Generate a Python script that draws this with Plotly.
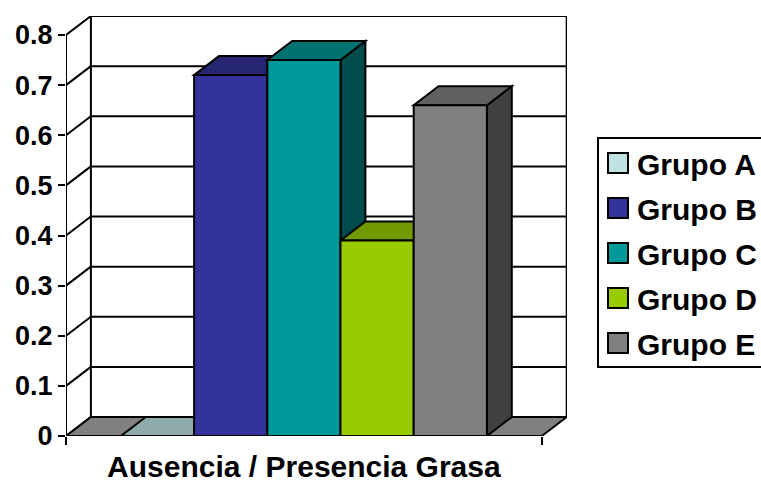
import plotly.graph_objects as go

# ---- data -------------------------------------------------------------
category = "Ausencia / Presencia Grasa"
groups = ["Grupo A", "Grupo B", "Grupo C", "Grupo D", "Grupo E"]
values = [0.0, 0.72, 0.75, 0.39, 0.66]
colors = ["#BFE3E3", "#333399", "#009999", "#99CC00", "#808080"]
y_ticks = [0, 0.1, 0.2, 0.3, 0.4, 0.5, 0.6, 0.7, 0.8]
y_tick_labels = ["0", "0.1", "0.2", "0.3", "0.4", "0.5", "0.6", "0.7", "0.8"]

# ---- pseudo-3D geometry (in axis units) --------------------------------
GAP = 0.75          # empty floor on each side of the bar cluster
BAR_W = 1.0
DX = 0.34           # depth offset along x
DY = 0.0379         # depth offset along y
FRONT_W = GAP * 2 + BAR_W * len(groups)
Y_MAX = y_ticks[-1]

W, H = 761, 482
ML, MR, MT, MB = 66, 194, 16, 46
PLOT_W = W - ML - MR
PLOT_H = H - MT - MB
X_RANGE = [0, PLOT_W / 73.2]
Y_RANGE = [0, PLOT_H / 501.25]

FONT = "Liberation Sans, Arial, sans-serif"
EDGE = dict(color="black", width=2)


def shade(hex_color, k):
    h = hex_color.lstrip("#")
    r, g, b = (int(h[i:i + 2], 16) for i in (0, 2, 4))
    return "#{:02X}{:02X}{:02X}".format(int(r * k), int(g * k), int(b * k))


def poly(pts):
    return "M " + " L ".join(f"{x},{y}" for x, y in pts) + " Z"


shapes = []

# back wall gridlines and the two wall edges
for v in y_ticks:
    shapes.append(dict(type="line", xref="x", yref="y", layer="below",
                       x0=DX, y0=v + DY, x1=FRONT_W + DX, y1=v + DY, line=EDGE))
for xe in (DX, FRONT_W + DX):
    shapes.append(dict(type="line", xref="x", yref="y", layer="below",
                       x0=xe, y0=DY, x1=xe, y1=Y_MAX + DY, line=EDGE))

# side wall: diagonal connectors from the front axis to the back wall
for v in y_ticks:
    shapes.append(dict(type="line", xref="x", yref="y", layer="below",
                       x0=0, y0=v, x1=DX, y1=v + DY, line=EDGE))
shapes.append(dict(type="line", xref="x", yref="y", layer="below",
                   x0=0, y0=0, x1=0, y1=Y_MAX, line=EDGE))

# floor
shapes.append(dict(type="path", xref="x", yref="y", layer="below",
                   path=poly([(0, 0), (FRONT_W, 0), (FRONT_W + DX, DY), (DX, DY)]),
                   fillcolor="#808080", line=EDGE))

# top and side faces, painted left to right
x_left = [GAP + i * BAR_W for i in range(len(groups))]
for xl, v, c in zip(x_left, values, colors):
    xr = xl + BAR_W
    if v > 0:
        shapes.append(dict(type="path", xref="x", yref="y", layer="below",
                           path=poly([(xr, 0), (xr, v), (xr + DX, v + DY), (xr + DX, DY)]),
                           fillcolor=shade(c, 0.5), line=EDGE))
    shapes.append(dict(type="path", xref="x", yref="y", layer="below",
                       path=poly([(xl, v), (xr, v), (xr + DX, v + DY), (xl + DX, v + DY)]),
                       fillcolor=shade(c, 0.75), line=EDGE))

fig = go.Figure()

# front faces of the columns
for xl, v, c, name in zip(x_left, values, colors, groups):
    fig.add_trace(go.Bar(x=[xl + BAR_W / 2], y=[v], width=BAR_W, name=name,
                         marker=dict(color=c, line=EDGE), showlegend=False,
                         hoverinfo="name+y"))


# legend box drawn beside the plot
def px_x(p):
    return (p - ML) / PLOT_W


def px_y(p):
    return (H - MB - p) / PLOT_H


annotations = []
shapes.append(dict(type="rect", xref="paper", yref="paper",
                   x0=px_x(598), x1=px_x(780), y0=px_y(367), y1=px_y(138),
                   line=EDGE, fillcolor="white"))
for i, (name, c) in enumerate(zip(groups, colors)):
    cy = 163 + 45 * i
    shapes.append(dict(type="rect", xref="paper", yref="paper",
                       x0=px_x(608), x1=px_x(628), y0=px_y(cy + 10), y1=px_y(cy - 10),
                       fillcolor=c, line=EDGE))
    annotations.append(dict(xref="paper", yref="paper", x=px_x(635), y=px_y(cy + 1),
                            xanchor="left", yanchor="middle", showarrow=False,
                            text=name, font=dict(family=FONT, size=30, color="black",
                                                 weight="bold")))

fig.update_layout(
    width=W, height=H,
    margin=dict(l=ML, r=MR, t=MT, b=MB, pad=0, autoexpand=False),
    paper_bgcolor="white", plot_bgcolor="white",
    barmode="overlay",
    shapes=shapes, annotations=annotations,
    showlegend=False,
    xaxis=dict(range=X_RANGE, showgrid=False, zeroline=False, showline=False,
               tickvals=[FRONT_W / 2], ticktext=[category], ticks="",
               ticklabelstandoff=10, automargin=False,
               tickfont=dict(family=FONT, size=30, color="black", weight="bold"),
               minor=dict(tickvals=[0, FRONT_W], ticks="outside", ticklen=8,
                          tickwidth=2, tickcolor="black"),
               fixedrange=True),
    yaxis=dict(range=Y_RANGE, showgrid=False, zeroline=False, showline=False,
               tickvals=y_ticks, ticktext=y_tick_labels, automargin=False,
               ticks="outside", ticklen=7, tickwidth=2, tickcolor="black",
               tickfont=dict(family=FONT, size=27, color="black", weight="bold"),
               fixedrange=True),
)

fig.write_html("out.html")
